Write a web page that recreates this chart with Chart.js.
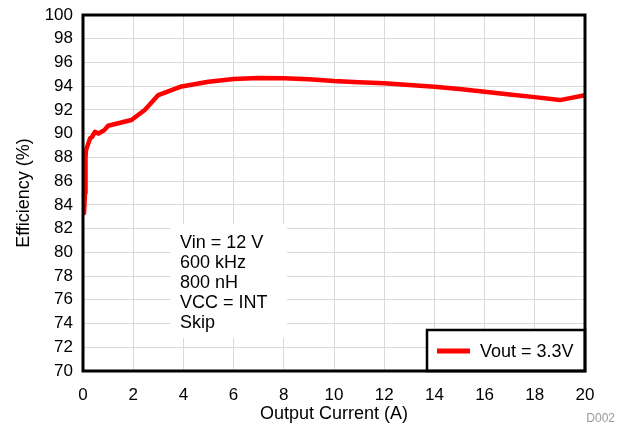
<!DOCTYPE html>
<html><head><meta charset="utf-8">
<script src="https://cdn.jsdelivr.net/npm/chart.js@4/dist/chart.umd.min.js"></script>
<style>html,body{margin:0;padding:0;background:#fff}#wrap{width:621px;height:429px}</style>
</head><body><div id="wrap"><canvas id="c" width="621" height="429"></canvas></div>
<script>
const currentA = [0.04,0.08,0.1,0.12,0.2,0.28,0.35,0.48,0.61,0.74,0.85,1.0,1.93,2.46,3.0,3.87,5,6,7,8,9,10,11,12,13,14,15,16,17,18,19,20];
const efficiency = [83.3,85.0,88.0,88.6,89.1,89.6,89.7,90.16,90.0,90.16,90.3,90.67,91.15,92.0,93.25,93.95,94.37,94.6,94.7,94.68,94.58,94.43,94.34,94.24,94.1,93.95,93.76,93.53,93.3,93.08,92.83,93.25];
const seriesLabel = 'Vout = 3.3V';
const noteLines = ['Vin = 12 V','600 kHz','800 nH','VCC = INT','Skip'];
const FONT = 'Liberation Sans, Arial, sans-serif';

const overlay = {
  id:'overlay',
  afterDatasetsDraw(chart){
    const {ctx, chartArea:a} = chart;
    ctx.save();
    // note box
    ctx.fillStyle='#fff';
    ctx.fillRect(170, 224, 117, 114);
    ctx.fillStyle='#000';
    ctx.font='18px '+FONT;
    ctx.textBaseline='alphabetic';
    noteLines.forEach((t,i)=>ctx.fillText(t, 180, 248+i*20));
    // legend
    const lx=427, ly=330, lw=a.right-lx, lh=a.bottom-ly;
    ctx.fillStyle='#fff'; ctx.fillRect(lx,ly,lw,lh);
    ctx.strokeStyle='#000'; ctx.lineWidth=2.5; ctx.strokeRect(lx,ly,lw,lh);
    ctx.strokeStyle='#ff0000'; ctx.lineWidth=5;
    ctx.beginPath(); ctx.moveTo(437,351); ctx.lineTo(470,351); ctx.stroke();
    ctx.fillStyle='#000'; ctx.font='18px '+FONT;
    ctx.fillText(chart.data.datasets[0].label, 480, 357);
    // border
    ctx.strokeStyle='#000'; ctx.lineWidth=3;
    ctx.strokeRect(a.left, a.top, a.right-a.left, a.bottom-a.top);
    // D002
    ctx.fillStyle='#999'; ctx.font='12px '+FONT;
    ctx.textAlign='right';
    ctx.fillText('D002', 615, 422);
    ctx.restore();
  }
};

new Chart(document.getElementById('c'), {
  type:'line',
  data:{datasets:[{label:seriesLabel, data:currentA.map((v,i)=>({x:v,y:efficiency[i]})),
    borderColor:'#ff0000', borderWidth:4.5, pointRadius:0, tension:0, borderJoinStyle:'round', borderCapStyle:'round', fill:false}]},
  options:{
    responsive:false, animation:false,
    layout:{padding:{top:15,right:36,bottom:0,left:0}},
    plugins:{legend:{display:false}, tooltip:{enabled:false}},
    scales:{
      x:{type:'linear', min:0, max:20,
        afterFit(s){ s.height = 58; },
        ticks:{stepSize:2, color:'#000', font:{family:FONT,size:17,lineHeight:1}, padding:16, maxRotation:0, autoSkip:false},
        grid:{color:'#d9d9d9', lineWidth:1, drawTicks:false},
        border:{display:false},
        title:{display:true, text:'Output Current (A)', color:'#000', font:{family:FONT,size:18}, padding:{top:0,bottom:4}}},
      y:{min:70, max:100,
        afterFit(s){ s.width = 83; s.paddingTop = 0; s.paddingBottom = 0; },
        ticks:{stepSize:2, color:'#000', font:{family:FONT,size:17,lineHeight:1}, padding:10, autoSkip:false},
        grid:{color:'#d9d9d9', lineWidth:1, drawTicks:false},
        border:{display:false},
        title:{display:true, text:'Efficiency (%)', color:'#000', font:{family:FONT,size:18}, padding:{top:13,bottom:11}}}
    }
  },
  plugins:[overlay]
});
</script></body></html>
